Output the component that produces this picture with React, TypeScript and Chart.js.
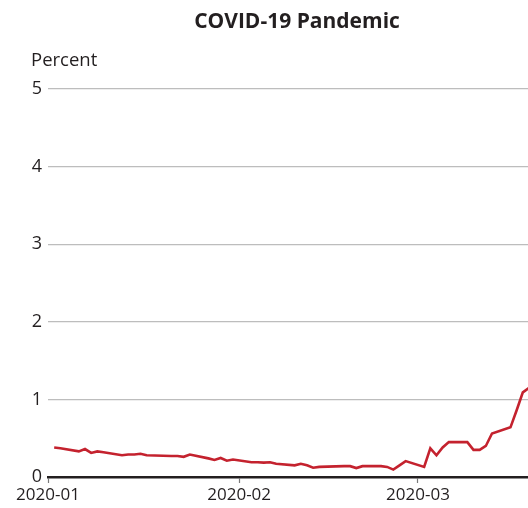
import React, { useEffect, useRef } from "react";
import { Chart, registerables } from "chart.js";

Chart.register(...registerables);

// Day offsets from 2020-01-01 (business days)
const dayOffsets = [
  1, 2, 5, 6, 7, 8, 9, 12, 13, 14, 15, 16, 20, 21, 22, 23, 26, 27, 28, 29, 30,
  33, 34, 35, 36, 37, 40, 41, 42, 43, 44, 48, 49, 50, 51, 54, 55, 56, 57, 58,
  61, 62, 63, 64, 65, 68, 69, 70, 71, 72, 75, 76, 77, 78, 79,
];
const percentValues = [
  0.38, 0.37, 0.33, 0.36, 0.31, 0.33, 0.32, 0.28, 0.29, 0.29, 0.3, 0.28, 0.27,
  0.27, 0.26, 0.29, 0.24, 0.22, 0.245, 0.21, 0.225, 0.19, 0.19, 0.185, 0.19,
  0.17, 0.15, 0.17, 0.15, 0.12, 0.13, 0.14, 0.14, 0.115, 0.14, 0.14, 0.13,
  0.095, 0.15, 0.205, 0.13, 0.37, 0.28, 0.38, 0.45, 0.45, 0.35, 0.35, 0.4,
  0.56, 0.64, 0.86, 1.09, 1.15, 1.3,
];
const xTickDays = [0, 31, 60];
const xTickLabels = ["2020-01", "2020-02", "2020-03"];
const yTicks = [0, 1, 2, 3, 4, 5];
const titleText = "COVID-19 Pandemic";
const yAxisLabel = "Percent";

const FONT = "'Open Sans', sans-serif";
const TEXT = "#231f20";

const headerPlugin = {
  id: "header",
  afterDraw(chart: any) {
    const ctx = chart.ctx;
    ctx.save();
    ctx.fillStyle = TEXT;
    ctx.textBaseline = "alphabetic";
    ctx.textAlign = "center";
    ctx.font = `bold 21px ${FONT}`;
    ctx.fillText(titleText, 289, 20);
    ctx.textAlign = "left";
    ctx.font = `18.5px ${FONT}`;
    ctx.fillText(yAxisLabel, 23, 58);
    ctx.restore();
  },
};

export default function App() {
  const ref = useRef<HTMLCanvasElement>(null);
  useEffect(() => {
    if (!ref.current) return;
    const chart = new Chart(ref.current, {
      type: "line",
      data: {
        datasets: [
          {
            data: dayOffsets.map((d, i) => ({ x: d, y: percentValues[i] })),
            borderColor: "#c4222e",
            borderWidth: 2.6,
            pointRadius: 0,
            tension: 0,
            fill: false,
          },
        ],
      },
      options: {
        animation: false,
        responsive: false,
        events: [],
        layout: { padding: { top: 81, right: 0, bottom: 0, left: 0 } },
        plugins: {
          legend: { display: false },
          title: { display: false },
          tooltip: { enabled: false },
        },
        scales: {
          x: {
            type: "linear",
            min: 0,
            max: 77.84,
            afterFit: (s: any) => {
              s.height = 31;
            },
            afterBuildTicks: (s: any) => {
              s.ticks = xTickDays.map((v) => ({ value: v }));
            },
            ticks: {
              autoSkip: false,
              maxRotation: 0,
              padding: 2,
              color: TEXT,
              font: { family: FONT, size: 17 },
              callback: (v: any) => {
                const i = xTickDays.indexOf(Number(v));
                return i >= 0 ? xTickLabels[i] : "";
              },
            },
            grid: {
              display: true,
              drawOnChartArea: false,
              drawTicks: true,
              tickLength: 6,
              tickColor: "#7a7a7a",
              tickWidth: 1.2,
            },
            border: { display: true, color: TEXT, width: 2.6 },
          },
          y: {
            type: "linear",
            min: 0,
            max: 5,
            afterFit: (s: any) => {
              s.width = 40;
            },
            afterBuildTicks: (s: any) => {
              s.ticks = yTicks.map((v) => ({ value: v }));
            },
            ticks: {
              padding: 6,
              color: TEXT,
              font: { family: FONT, size: 18 },
            },
            grid: {
              drawTicks: false,
              color: (c: any) => (c.tick && c.tick.value === 0 ? "rgba(0,0,0,0)" : "#bdbdbd"),
              lineWidth: 1.2,
            },
            border: { display: false },
          },
        },
      },
      plugins: [headerPlugin],
    });
    return () => chart.destroy();
  }, []);
  return (
    <canvas
      ref={ref}
      width={520}
      height={500}
      style={{ display: "block", position: "absolute", left: 8, top: 8, width: 520, height: 500 }}
    />
  );
}
